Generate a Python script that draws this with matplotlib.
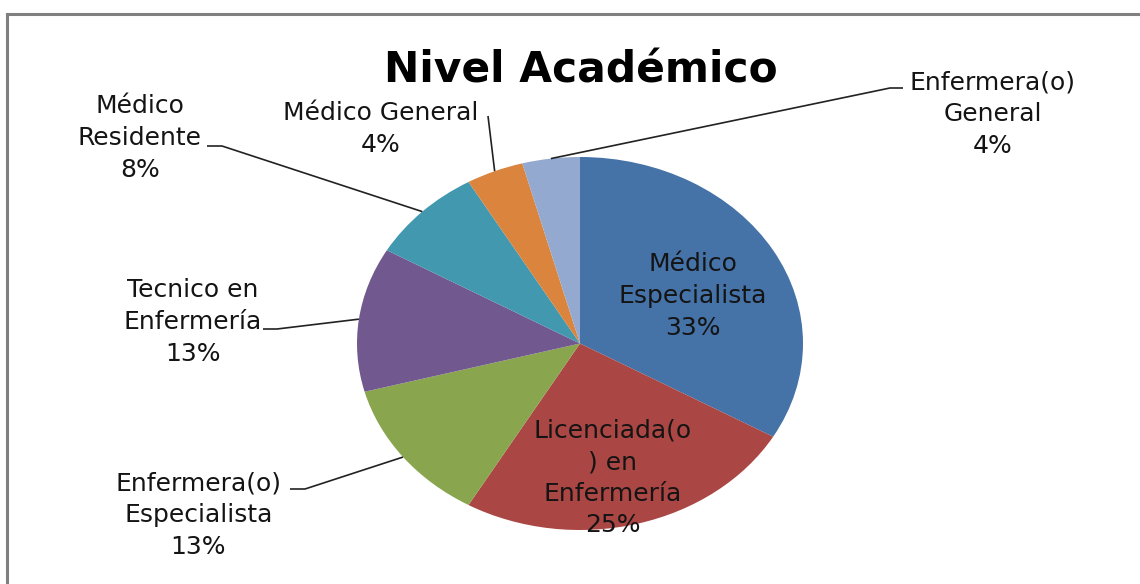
import matplotlib
matplotlib.use("Agg")
import matplotlib.pyplot as plt
from matplotlib.lines import Line2D
import numpy as np

# ---- data ----
title = "Nivel Académico"
categories = ["Médico\nEspecialista", "Licenciada(o\n) en\nEnfermería",
              "Enfermera(o)\nEspecialista", "Tecnico en\nEnfermería",
              "Médico\nResidente", "Médico General", "Enfermera(o)\nGeneral"]
values = [8, 6, 3, 3, 2, 1, 1]
pct_labels = ["33%", "25%", "13%", "13%", "8%", "4%", "4%"]
colors = ["#4572A7", "#AA4643", "#89A54E", "#71588F", "#4198AF", "#DB843D", "#93A9CF"]

# ---- layout (pixel space) ----
W, H = 1140, 584
cx, cy = 580.0, 343.5
rx, ry = 223.0, 186.5

def P(x, y):
    return ((x - cx) / rx, (cy - y) / ry)

def Q(u, v):
    return (cx + u * rx, cy - v * ry)

fig = plt.figure(figsize=(W / 100, H / 100), dpi=100)
ax = fig.add_axes([0, 0, 1, 1])
wedges, _ = ax.pie(values, colors=colors, startangle=90, counterclock=False,
                   radius=1, center=(0, 0), wedgeprops=dict(linewidth=0))
ax.set_aspect('auto')
ax.set_xlim(P(0, 0)[0], P(W, 0)[0])
ax.set_ylim(P(0, H)[1], P(0, 0)[1])
ax.axis('off')

FONT = "DejaVu Sans"
fs = 18
ls = 1.40

# label centers (pixels), and leader-line starting points
label_pos = [(693, 296), (613, 478), (198.5, 515), (193, 322),
             (140, 138), (381, 129), (993, 114)]
leader = [None, None, [(290, 489), (305, 489)], [(263, 329), (277, 329)],
          [(207, 146), (222, 146)], [(488, 116)], [(903, 88), (890, 88)]]

for w, cat, pct, pos, ld in zip(wedges, categories, pct_labels, label_pos, leader):
    x, y = P(*pos)
    ax.text(x, y, cat + "\n" + pct, ha='center', va='center', multialignment='center',
            fontsize=fs, family=FONT, color='#141414', linespacing=ls, zorder=5)
    if ld is not None:
        mid = np.deg2rad((w.theta1 + w.theta2) / 2)
        end = Q(np.cos(mid), np.sin(mid))
        pts = ld + [end]
        xs = [P(*p)[0] for p in pts]
        ys = [P(*p)[1] for p in pts]
        ax.plot(xs, ys, color='#222222', lw=1.2, solid_capstyle='butt', zorder=4)

tx, ty = P(581, 82.5)
ax.text(tx, ty, title, ha='center', va='baseline', fontsize=30.5,
        fontweight='bold', family=FONT, color='black')

# chart frame (top and left visible)
fig.add_artist(Line2D([6.5 / W, 1.0], [1 - 13.8 / H] * 2, color='#808080', lw=2.2,
                      transform=fig.transFigure))
fig.add_artist(Line2D([6.5 / W] * 2, [0, 1 - 13.8 / H], color='#808080', lw=2.2,
                      transform=fig.transFigure))

fig.savefig("out.png", dpi=100)
